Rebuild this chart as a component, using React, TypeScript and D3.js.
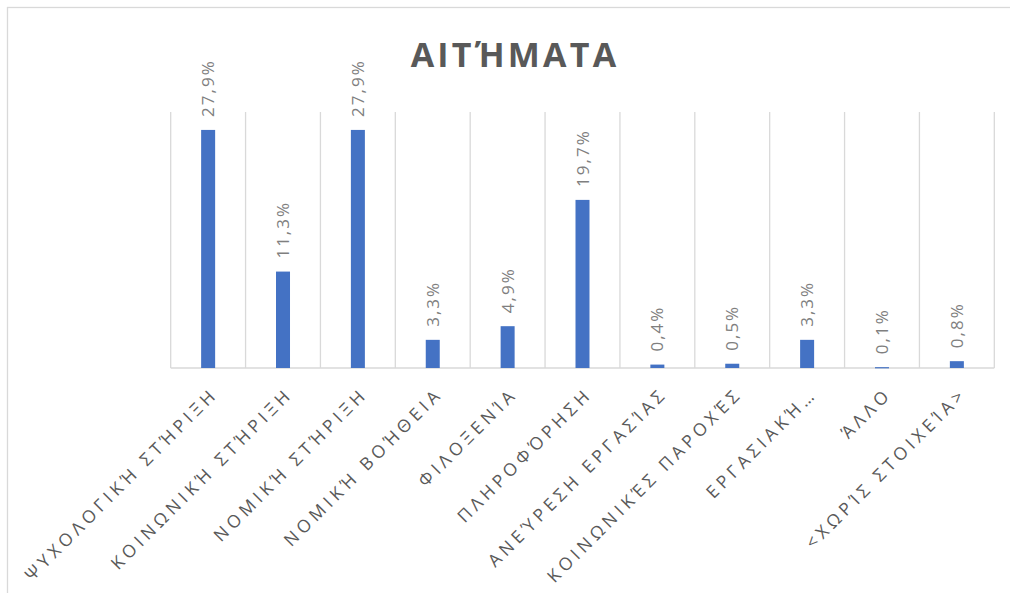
import React from "react";
import * as d3 from "d3";

const categories: string[] = [
  "ΨΥΧΟΛΟΓΙΚΉ ΣΤΉΡΙΞΗ",
  "ΚΟΙΝΩΝΙΚΉ ΣΤΉΡΙΞΗ",
  "ΝΟΜΙΚΉ ΣΤΉΡΙΞΗ",
  "ΝΟΜΙΚΉ ΒΟΉΘΕΙΑ",
  "ΦΙΛΟΞΕΝΊΑ",
  "ΠΛΗΡΟΦΌΡΗΣΗ",
  "ΑΝΕΎΡΕΣΗ ΕΡΓΑΣΊΑΣ",
  "ΚΟΙΝΩΝΙΚΈΣ ΠΑΡΟΧΈΣ",
  "ΕΡΓΑΣΙΑΚΉ…",
  "ΆΛΛΟ",
  "<ΧΩΡΊΣ ΣΤΟΙΧΕΊΑ>",
];

const values: number[] = [27.9, 11.3, 27.9, 3.3, 4.9, 19.7, 0.4, 0.5, 3.3, 0.1, 0.8];

const valueLabels: string[] = values.map((v) => v.toFixed(1).replace(".", ",") + "%");

const title = "ΑΙΤΉΜΑΤΑ";

const W = 1010;
const H = 593;
const plotLeft = 170.7;
const plotRight = 994.3;
const plotTop = 112;
const plotBottom = 368;

export default function App() {
  const x = d3.scaleBand<string>().domain(categories).range([plotLeft, plotRight]).padding(0);
  const y = d3.scaleLinear().domain([0, 30]).range([plotBottom, plotTop]);
  const bw = 14;
  const font = "'Open Sans', 'Noto Sans', sans-serif";
  const gridColor = "#d9d9d9";
  const textColor = "#595959";

  const boundaries = categories.map((c) => x(c) as number).concat([plotRight]);

  return (
    <svg
      width={W}
      height={H}
      style={{ position: "absolute", left: 0, top: 0, background: "#fff" }}
    >
      <rect x={7.5} y={7.5} width={W + 20} height={H + 20} fill="#fff" stroke={gridColor} strokeWidth={1.3} />
      <text
        x={515}
        y={67}
        textAnchor="middle"
        fontFamily={font}
        fontWeight="bold"
        fontSize={34}
        letterSpacing={3.2}
        fill={textColor}
      >
        {title}
      </text>
      {boundaries.map((bx, i) => (
        <line key={"g" + i} x1={bx} x2={bx} y1={plotTop} y2={plotBottom} stroke={gridColor} strokeWidth={1.3} />
      ))}
      <line x1={plotLeft} x2={plotRight} y1={plotBottom} y2={plotBottom} stroke={gridColor} strokeWidth={1.3} />
      {categories.map((c, i) => {
        const cx = (x(c) as number) + x.bandwidth() / 2;
        return (
          <g key={"b" + i}>
            <rect x={cx - bw / 2} y={y(values[i])} width={bw} height={Math.max(1.2, plotBottom - y(values[i]))} fill="#4472C4" />
            <text
              transform={`translate(${cx + 6},${y(values[i]) - 13}) rotate(-90)`}
              fontFamily={font}
              fontSize={17}
              letterSpacing={2}
              fill="#7f7f7f"
            >
              {valueLabels[i]}
            </text>
            <text
              transform={`translate(${cx + 11},${plotBottom + 27}) rotate(-45)`}
              textAnchor="end"
              fontFamily={font}
              fontSize={17.5}
              letterSpacing={4.3}
              fill={textColor}
            >
              {c}
            </text>
          </g>
        );
      })}
    </svg>
  );
}
